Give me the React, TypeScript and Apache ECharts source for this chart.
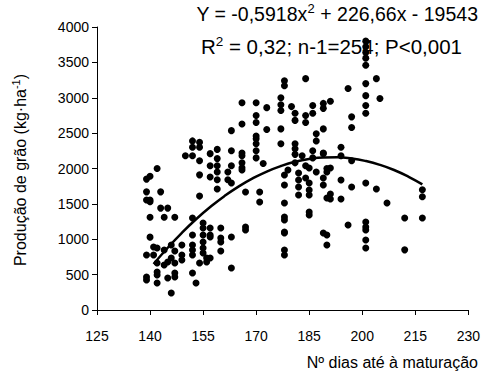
import React, { useEffect, useRef } from "react";
import * as echarts from "echarts";

const xTicks = { min: 125, max: 230, interval: 15 };
const yTicks = { min: 0, max: 4000, interval: 500 };

// observed points [days to maturity, grain yield kg/ha]
const pointsTop: number[][] = [
  [201, 3800], [201, 3720], [201, 3640], [201, 3560], [201, 3460],
  [204, 3270], [196, 3130], [201, 3200], [201, 3030], [205, 2990], [191, 2950], [189, 2920],
  [178, 3240], [178, 3170], [184, 3270], [166, 2930], [170, 2930], [177, 3000], [177, 2900],
  [177, 2820], [173, 2860], [189, 2850], [201, 2890], [201, 2780],
];
const pointsUpper: number[][] = [
  [180, 2875], [181, 2780], [184, 2750], [186, 2890], [186, 2780], [181, 2680], [184, 2650],
  [170, 2750], [170, 2650], [166, 2630], [163, 2535], [173, 2550], [177, 2560], [170, 2460],
  [170, 2420], [187, 2490], [187, 2390], [170, 2350], [170, 2250], [170, 2150], [163, 2250],
  [166, 2220], [166, 2180], [177, 2350], [181, 2350], [181, 2280], [181, 2200], [183, 2180],
  [186, 2250], [186, 2150], [189, 2220], [163, 2040], [166, 2080], [166, 2010], [172, 2070],
  [181, 2080], [184, 2040], [197, 2730], [189, 2560], [197, 2580], [194, 2300], [189, 2210],
  [194, 2180], [197, 2110], [190, 2000],
  [152, 2390], [154, 2370], [154, 2300], [152, 2300], [150, 2180], [152, 2180], [154, 2110],
  [157, 2210], [159, 2270], [159, 2140], [159, 2040], [157, 2040], [142, 2000],
];
const pointsMiddle: number[][] = [
  [140, 1890], [139, 1850], [139, 1670], [143, 1670], [139, 1555], [140, 1555], [140, 1530],
  [154, 1610], [143, 1440], [145, 1440], [140, 1310], [144, 1310], [147, 1310], [152, 1300],
  [155, 1230], [155, 1160], [157, 1160], [160, 1160], [152, 1060], [155, 1060], [157, 1060],
  [162, 1950], [159, 1950], [157, 1880], [159, 1840], [162, 1840], [163, 1795], [159, 1710],
  [154, 1910],
  [166, 1979], [167, 1668], [171, 1668], [171, 1527], [178, 1908], [178, 1767], [179, 1979],
  [182, 1936], [182, 1837], [182, 1739], [182, 1625], [185, 2007], [184, 1866], [185, 1795],
  [185, 1696], [185, 1625], [187, 1950], [190, 1950], [190, 1583], [178, 1512], [178, 1314],
  [178, 1272], [185, 1385], [185, 1343], [178, 1102], [167, 1173],
  [191, 2007], [189, 1866], [189, 1767], [194, 1837], [197, 1739], [201, 1795], [204, 1710],
  [191, 1640], [191, 1569], [194, 1569], [207, 1512], [217, 1700], [217, 1600], [212, 1300],
  [217, 1300], [196, 1201], [201, 1244], [201, 1173], [189, 1088],
];
const pointsLower: number[][] = [
  [140, 1030], [141, 890], [142, 876], [139, 777], [141, 777], [144, 848], [146, 919],
  [149, 919], [147, 834], [145, 678], [142, 664], [146, 735], [149, 777], [149, 707],
  [147, 664], [152, 919], [152, 848], [152, 777], [155, 961], [155, 876], [155, 806],
  [156, 735], [154, 664], [156, 678], [157, 735], [157, 1032], [160, 1018], [160, 961],
  [160, 834], [163, 594], [142, 537], [142, 495], [144, 636], [139, 466], [139, 424],
  [142, 382], [145, 452], [147, 523], [147, 466], [152, 523], [153, 382], [146, 240],
  [163, 1032], [178, 1088], [178, 848], [178, 777], [190, 1060], [190, 919], [167, 1130],
  [201, 989], [201, 876], [212, 850], [201, 1130],
];

// fitted curve Y = -0,5918x² + 226,66x - 19543
const curveX = [141, 145, 149, 153, 157, 161, 165, 169, 173, 177, 181, 185, 189, 193, 197, 201, 205, 209, 213, 217];
const curveY = [650, 880, 1091, 1283, 1455, 1609, 1744, 1860, 1957, 2035, 2095, 2135, 2156, 2159, 2142, 2106, 2052, 1979, 1886, 1775];

const FONT = "'Liberation Sans', Arial, Helvetica, sans-serif";

export default function App() {
  const ref = useRef<HTMLDivElement>(null);
  useEffect(() => {
    if (!ref.current) return;
    const chart = echarts.init(ref.current, undefined, { renderer: "svg" });
    const scatterData = [...pointsTop, ...pointsUpper, ...pointsMiddle, ...pointsLower];
    const curveData = curveX.map((x, i) => [x, curveY[i]]);
    const base = { fontSize: 16, fontFamily: FONT, color: "#000" };
    const sup = { fontSize: 11, fontFamily: FONT, color: "#000", padding: [0, 0, 9, 0] };
    const eqBase = { fontSize: 19.5, fontFamily: FONT, color: "#000" };
    const eqSup = { fontSize: 13, fontFamily: FONT, color: "#000", padding: [0, 0, 10, 0] };
    const eq2Base = { fontSize: 20.5, fontFamily: FONT, color: "#000" };
    const eq2Sup = { fontSize: 13.5, fontFamily: FONT, color: "#000", padding: [0, 0, 10, 0] };
    chart.setOption({
      animation: false,
      backgroundColor: "#fff",
      grid: { left: 97, right: 10, top: 27, bottom: 67 },
      xAxis: {
        type: "value",
        min: xTicks.min,
        max: xTicks.max,
        interval: xTicks.interval,
        splitLine: { show: false },
        axisLine: { show: true, lineStyle: { color: "#000", width: 1 } },
        axisTick: { show: true, length: 5, lineStyle: { color: "#000" } },
        axisLabel: {
          color: "#000", fontSize: 14, fontFamily: FONT, margin: 19,
          formatter: (v: number) => String(v),
        },
      },
      yAxis: {
        type: "value",
        min: yTicks.min,
        max: yTicks.max,
        interval: yTicks.interval,
        splitLine: { show: false },
        axisLine: { show: true, lineStyle: { color: "#000", width: 1 } },
        axisTick: { show: true, length: 5, lineStyle: { color: "#000" } },
        axisLabel: {
          color: "#000", fontSize: 14, fontFamily: FONT, margin: 8,
          formatter: (v: number) => String(v),
        },
      },
      series: [
        {
          type: "scatter",
          data: scatterData,
          symbol: "circle",
          symbolSize: 7,
          itemStyle: { color: "#000", opacity: 1 },
        },
        {
          type: "line",
          data: curveData,
          smooth: true,
          showSymbol: false,
          lineStyle: { color: "#000", width: 2.5 },
        },
      ],
      graphic: [
        {
          type: "text",
          right: 5,
          top: 2,
          style: {
            text: "{a|Y = -0,5918x}{s|2}{a| + 226,66x - 19543}",
            rich: { a: eqBase, s: eqSup },
            ...eqBase,
          },
        },
        {
          type: "text",
          right: 21,
          top: 34,
          style: {
            text: "{a|R}{s|2}{a| = 0,32; n-1=254; P<0,001}",
            rich: { a: eq2Base, s: eq2Sup },
            ...eq2Base,
          },
        },
        {
          type: "text",
          x: 20,
          y: 170,
          rotation: Math.PI / 2,
          style: {
            text: "{a|Produção de grão (kg·ha}{s|-1}{a|)}",
            rich: { a: base, s: sup },
            ...base,
            align: "center",
            verticalAlign: "middle",
          },
        },
        {
          type: "text",
          right: 5,
          top: 354,
          style: {
            text: "Nº dias até à maturação",
            ...base,
          },
        },
      ],
    });
    return () => chart.dispose();
  }, []);
  return (
    <div
      ref={ref}
      style={{ position: "fixed", left: 0, top: 0, width: 483, height: 377, background: "#fff" }}
    />
  );
}
